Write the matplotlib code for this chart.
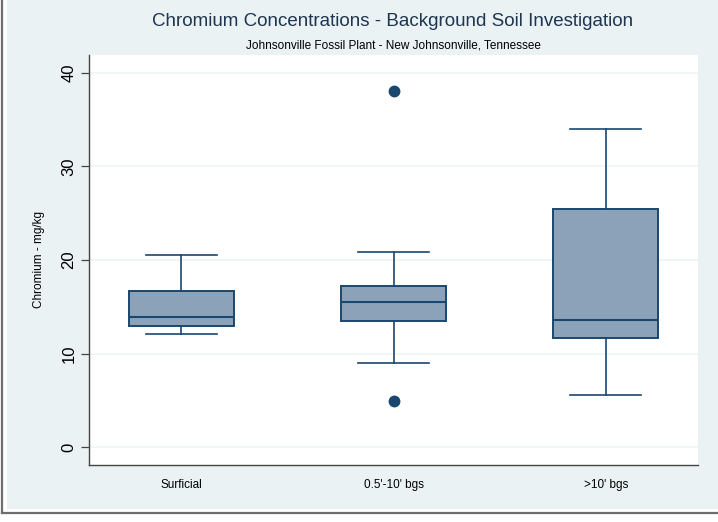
import matplotlib.pyplot as plt
from matplotlib.patches import Rectangle
from matplotlib.lines import Line2D

plt.rcParams['font.family'] = ['Liberation Sans', 'DejaVu Sans']

# box summaries read per depth group (mg/kg)
groups = ["Surficial", "0.5'-10' bgs", ">10' bgs"]
q1 = [12.9, 13.5, 11.7]
med = [13.9, 15.5, 13.6]
q3 = [16.7, 17.2, 25.4]
whislo = [12.1, 8.95, 5.6]
whishi = [20.5, 20.9, 34.0]
outliers = [[], [38.1, 4.95], []]

navy = '#1a476f'
boxfill = '#8ca2b8'
bg = '#eaf2f3'

stats = []
for i, g in enumerate(groups):
    stats.append(dict(label=g, q1=q1[i], med=med[i], q3=q3[i],
                      whislo=whislo[i], whishi=whishi[i], fliers=outliers[i]))

fig = plt.figure(figsize=(7.18, 5.22), dpi=100, facecolor='white')
W, H = 718, 522

# graph region background and the frame lines around it
fig.patches.append(Rectangle((7 / W, 1 - 509 / H), 1 - 7 / W, 509 / H,
                             transform=fig.transFigure, facecolor=bg,
                             edgecolor='none', zorder=-10))
fig.lines.append(Line2D([2 / W, 2 / W], [1 - 513 / H, 1], transform=fig.transFigure,
                        color='#6e6e6e', lw=1.6, zorder=-9))
fig.lines.append(Line2D([2 / W, 1], [1 - 513 / H, 1 - 513 / H], transform=fig.transFigure,
                        color='#6e6e6e', lw=1.6, zorder=-9))

ax = fig.add_axes([89 / W, 1 - 465 / H, (698 - 89) / W, (465 - 55) / H])
ax.set_facecolor('white')

ax.bxp(stats, positions=[1, 2, 3], widths=0.495, patch_artist=True,
       boxprops=dict(facecolor=boxfill, edgecolor=navy, linewidth=1.4),
       medianprops=dict(color=navy, linewidth=1.5),
       whiskerprops=dict(color=navy, linewidth=1.2),
       capprops=dict(color=navy, linewidth=1.2),
       capwidths=0.335,
       flierprops=dict(marker='o', markerfacecolor=navy, markeredgecolor=navy,
                       markersize=7.5),
       zorder=3)

ax.set_xlim(0.566, 3.434)
ax.set_ylim(-1.9, 41.9)
ax.set_yticks([0, 10, 20, 30, 40])
ax.set_yticklabels(['0', '10', '20', '30', '40'], rotation=90, va='center', fontsize=12)
ax.grid(axis='y', color='#eef4f4', linewidth=1.2, zorder=0)
ax.set_axisbelow(True)

ax.tick_params(axis='y', length=6, width=0.9, color='#444444', pad=3)
ax.tick_params(axis='x', length=0, pad=10, labelsize=8.5)
for s in ['top', 'right']:
    ax.spines[s].set_visible(False)
for s in ['left', 'bottom']:
    ax.spines[s].set_color('#444444')
    ax.spines[s].set_linewidth(1.0)

ax.set_ylabel('Chromium - mg/kg', fontsize=8.5, labelpad=12)

fig.text(393 / W, 1 - 22 / H, 'Chromium Concentrations - Background Soil Investigation',
         ha='center', va='center', fontsize=13.5, color='#1f3550')
fig.text(393 / W, 1 - 45 / H, 'Johnsonville Fossil Plant - New Johnsonville, Tennessee',
         ha='center', va='center', fontsize=8.5, color='black')

fig.savefig('out.png', dpi=100, facecolor=fig.get_facecolor())
